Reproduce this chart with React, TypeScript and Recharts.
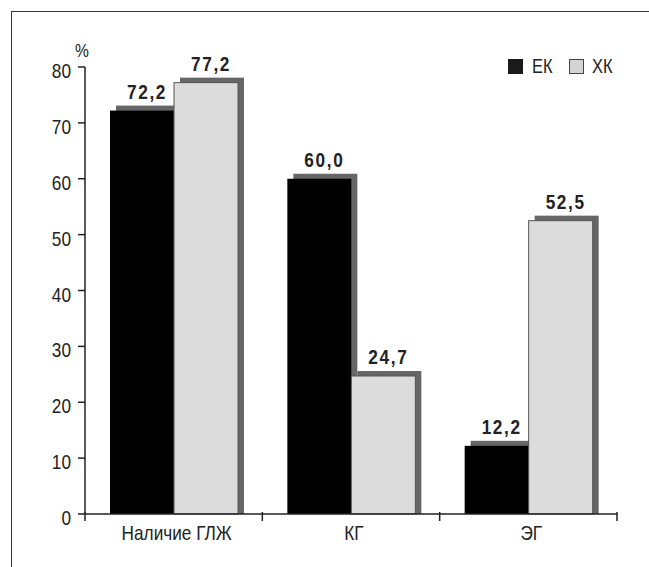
import React from 'react';
import { BarChart, Bar, XAxis, YAxis, LabelList } from 'recharts';

const categories = ['Наличие ГЛЖ', 'КГ', 'ЭГ'];
const ekValues = [72.2, 60.0, 12.2];
const xkValues = [77.2, 24.7, 52.5];
const yTicks = [0, 10, 20, 30, 40, 50, 60, 70, 80];
const seriesNames = ['ЕК', 'ХК'];

const data = categories.map((name, i) => ({ name, ek: ekValues[i], xk: xkValues[i] }));

const FONT = '"Liberation Sans", Arial, sans-serif';
const NARROW = 0.82;
const SHADOW_DX = 6;
const SHADOW_DY = 5;

// text squeezed horizontally to get a condensed face
const NarrowText = ({ x, y, anchor = 'middle', size = 19, bold = false, spacing = 0, children }: any) => (
  <text
    transform={`translate(${x},${y}) scale(${NARROW},1)`}
    textAnchor={anchor}
    fontFamily={FONT}
    fontSize={size}
    fontWeight={bold ? 'bold' : 'normal'}
    letterSpacing={spacing}
    fill="#222"
  >
    {children}
  </text>
);

// bar with a flat offset shadow behind it
const ShadowBar = (props: any) => {
  const { x, y, width, height, fill, stroke } = props;
  if (height <= 0) return null;
  return (
    <g>
      <rect x={x + SHADOW_DX} y={y - SHADOW_DY} width={width} height={height + SHADOW_DY} fill="#666" />
      <rect x={x} y={y} width={width} height={height} fill={fill} stroke={stroke} strokeWidth={stroke ? 1 : 0} />
    </g>
  );
};

const formatValue = (v: number) => v.toFixed(1).replace('.', ',');

const ValueLabel = (props: any) => {
  const { x, y, width, value } = props;
  return (
    <NarrowText x={x + width / 2 + SHADOW_DX / 2 + 2} y={y - SHADOW_DY - 7} size={21} bold spacing={2}>
      {formatValue(value)}
    </NarrowText>
  );
};

const ValueTick = (props: any) => {
  const { x, y, payload } = props;
  return (
    <NarrowText x={x} y={y + 11} anchor="end" size={21}>
      {payload.value}
    </NarrowText>
  );
};

// category label plus tick marks at the band edges
const CategoryTick = (props: any) => {
  const { x, y, payload, index } = props;
  const half = payload.offset || 0;
  const axisY = y - 10;
  return (
    <g>
      <line x1={x - half} y1={axisY} x2={x - half} y2={axisY + 9} stroke="#222" strokeWidth={1.5} />
      {index === categories.length - 1 && (
        <line x1={x + half} y1={axisY} x2={x + half} y2={axisY + 9} stroke="#222" strokeWidth={1.5} />
      )}
      <NarrowText x={x + 3} y={axisY + 28} size={21}>
        {payload.value}
      </NarrowText>
    </g>
  );
};

const Legend = () => {
  const label = { display: 'inline-block', transform: `scaleX(${NARROW})`, transformOrigin: 'left center' } as const;
  return (
    <div
      style={{
        position: 'absolute',
        left: 508,
        top: 55,
        display: 'flex',
        alignItems: 'center',
        fontFamily: FONT,
        fontSize: 20,
        color: '#222',
      }}
    >
      <span style={{ width: 15, height: 15, background: '#1a1a1a', display: 'inline-block' }} />
      <span style={{ ...label, marginLeft: 9, width: 37 }}>{seriesNames[0]}</span>
      <span
        style={{
          width: 13,
          height: 13,
          background: '#d4d4d4',
          border: '1px solid #444',
          display: 'inline-block',
        }}
      />
      <span style={{ ...label, marginLeft: 8 }}>{seriesNames[1]}</span>
    </div>
  );
};

export default function App() {
  return (
    <div style={{ position: 'absolute', left: 0, top: 0, width: 649, height: 567, background: '#fff', overflow: 'hidden' }}>
      <div
        style={{
          position: 'absolute',
          left: 11,
          top: 11,
          right: -10,
          bottom: -10,
          borderLeft: '1.5px solid #333',
          borderTop: '1.5px solid #333',
        }}
      />
      <div
        style={{
          position: 'absolute',
          left: 75,
          top: 40,
          fontFamily: FONT,
          fontSize: 19,
          color: '#222',
          transform: `scaleX(${NARROW})`,
          transformOrigin: 'left top',
        }}
      >
        %
      </div>
      <Legend />
      <div style={{ position: 'absolute', left: 0, top: 0 }}>
        <BarChart
          width={649}
          height={567}
          data={data}
          margin={{ top: 67, right: 32, bottom: 23, left: 35 }}
          barCategoryGap={25}
          barGap={0}
        >
          <XAxis
            dataKey="name"
            height={30}
            axisLine={{ stroke: '#222', strokeWidth: 1.5 }}
            tickLine={false}
            tick={<CategoryTick />}
            interval={0}
          />
          <YAxis
            width={50}
            domain={[0, 80]}
            ticks={yTicks}
            interval={0}
            axisLine={{ stroke: '#222', strokeWidth: 1.5 }}
            tickLine={{ stroke: '#222', strokeWidth: 1.5 }}
            tickSize={7}
            tickMargin={7}
            tick={<ValueTick />}
          />
          <Bar dataKey="ek" fill="#000" shape={<ShadowBar />} isAnimationActive={false}>
            <LabelList dataKey="ek" content={<ValueLabel />} />
          </Bar>
          <Bar dataKey="xk" fill="#dcdcdc" stroke="#555" shape={<ShadowBar />} isAnimationActive={false}>
            <LabelList dataKey="xk" content={<ValueLabel />} />
          </Bar>
        </BarChart>
      </div>
    </div>
  );
}
